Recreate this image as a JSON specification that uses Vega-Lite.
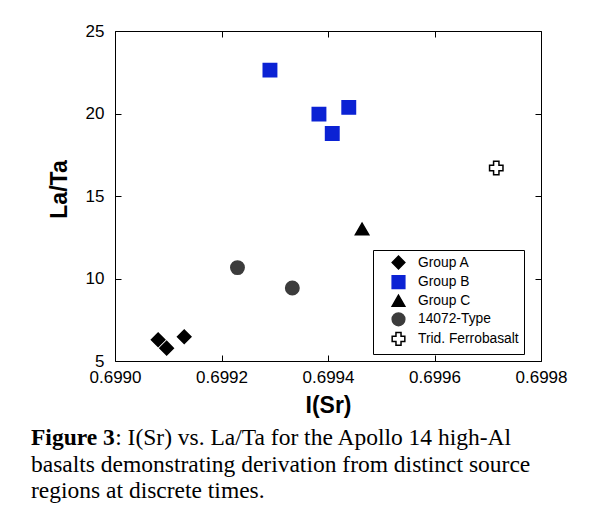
{
  "$schema": "https://vega.github.io/schema/vega-lite/v6.json",
  "width": 426,
  "height": 330,
  "autosize": {"type": "none"},
  "padding": {"left": 115, "top": 31, "right": 62, "bottom": 145},
  "background": "white",
  "title": {
    "text": "Figure 3",
    "subtitle": [
      "\u200b\u00a0\u00a0\u00a0\u00a0\u00a0\u00a0\u00a0\u00a0\u00a0\u00a0\u00a0\u00a0\u00a0\u00a0\u200a: I(Sr) vs. La/Ta for the Apollo 14 high-Al",
      "basalts demonstrating derivation from distinct source",
      "regions at discrete times."
    ],
    "orient": "bottom",
    "anchor": "start",
    "frame": "group",
    "align": "left",
    "dx": -84,
    "offset": 9,
    "font": "Liberation Serif",
    "fontSize": 23.5,
    "fontWeight": "bold",
    "color": "black",
    "subtitleFont": "Liberation Serif",
    "subtitleFontSize": 23.5,
    "subtitleFontWeight": "normal",
    "subtitleColor": "black",
    "subtitleLineHeight": 26.5,
    "subtitlePadding": -23.5
  },
  "data": {
    "values": [
      {"group": "Group A", "isr": 0.699081, "lata": 6.29},
      {"group": "Group A", "isr": 0.699097, "lata": 5.78},
      {"group": "Group A", "isr": 0.69913, "lata": 6.47},
      {"group": "Group B", "isr": 0.699291, "lata": 22.63},
      {"group": "Group B", "isr": 0.699383, "lata": 19.96},
      {"group": "Group B", "isr": 0.699408, "lata": 18.79},
      {"group": "Group B", "isr": 0.699439, "lata": 20.37},
      {"group": "Group C", "isr": 0.699464, "lata": 13.0},
      {"group": "14072-Type", "isr": 0.69923, "lata": 10.66},
      {"group": "14072-Type", "isr": 0.699333, "lata": 9.42},
      {"group": "Trid. Ferrobasalt", "isr": 0.699716, "lata": 16.7}
    ]
  },
  "layer": [
    {
      "mark": {"type": "point", "filled": true, "opacity": 1, "strokeWidth": 1.5, "size": 180},
      "encoding": {
        "x": {
          "field": "isr", "type": "quantitative",
          "scale": {"domain": [0.699, 0.6998], "nice": false, "zero": false},
          "axis": {
            "title": "I(Sr)", "values": [0.699, 0.6992, 0.6994, 0.6996, 0.6998], "format": ".4f",
            "orient": "bottom", "grid": false, "domain": false,
            "tickSize": -6, "tickColor": "black", "tickWidth": 1,
            "labelFont": "Liberation Sans", "labelFontSize": 17, "labelColor": "black", "labelPadding": 14,
            "labelFlush": false, "labelOverlap": false,
            "titleFont": "Liberation Sans", "titleFontSize": 23, "titleFontWeight": "bold", "titleColor": "black", "titlePadding": 9
          }
        },
        "y": {
          "field": "lata", "type": "quantitative",
          "scale": {"domain": [5, 25], "nice": false, "zero": false},
          "axis": {
            "title": "La/Ta", "values": [5, 10, 15, 20, 25],
            "orient": "left", "grid": false, "domain": false,
            "tickSize": -6, "tickColor": "black", "tickWidth": 1,
            "labelFont": "Liberation Sans", "labelFontSize": 17, "labelColor": "black", "labelPadding": 17,
            "labelFlush": false, "labelOverlap": false,
            "titleFont": "Liberation Sans", "titleFontSize": 23, "titleFontWeight": "bold", "titleColor": "black", "titlePadding": 14,
            "titleY": 158
          }
        },
        "shape": {
          "field": "group", "type": "nominal", "title": null,
          "scale": {
            "domain": ["Group A", "Group B", "Group C", "14072-Type", "Trid. Ferrobasalt"],
            "range": ["diamond", "square", "triangle-up", "circle", "cross"]
          },
          "legend": {
            "orient": "none", "legendX": 258, "legendY": 219,
            "padding": 5, "strokeColor": "black", "fillColor": "white",
            "symbolOffset": 13, "labelOffset": 12, "rowPadding": 0.6,
            "symbolSize": 160, "symbolStrokeWidth": 1.5,
            "labelFont": "Liberation Sans", "labelFontSize": 13.8, "labelLimit": 200,
            "encode": {
              "labels": {"update": {"fill": {"signal": "datum.label === 'Group B' ? '#0b22d4' : (datum.label === '14072-Type' ? '#555555' : '#000000')"}}},
              "legend": {"update": {"strokeWidth": {"value": 1.5}}}
            }
          }
        },
        "fill": {
          "field": "group", "type": "nominal", "title": null,
          "scale": {
            "domain": ["Group A", "Group B", "Group C", "14072-Type", "Trid. Ferrobasalt"],
            "range": ["#000000", "#0b22d4", "#000000", "#3c3c3c", "#ffffff"]
          }
        },
        "stroke": {
          "field": "group", "type": "nominal", "title": null,
          "scale": {
            "domain": ["Group A", "Group B", "Group C", "14072-Type", "Trid. Ferrobasalt"],
            "range": ["#000000", "#0b22d4", "#000000", "#3c3c3c", "#000000"]
          }
        }
      }
    },
    {
      "mark": {"type": "point", "opacity": 0},
      "encoding": {
        "x": {
          "field": "isr", "type": "quantitative",
          "axis": {
            "title": null, "values": [0.699, 0.6992, 0.6994, 0.6996, 0.6998], "labels": false,
            "orient": "top", "grid": false, "domain": false,
            "tickSize": -6, "tickColor": "black", "tickWidth": 1
          }
        },
        "y": {
          "field": "lata", "type": "quantitative",
          "axis": {
            "title": null, "values": [5, 10, 15, 20, 25], "labels": false,
            "orient": "right", "grid": false, "domain": false,
            "tickSize": -6, "tickColor": "black", "tickWidth": 1
          }
        }
      }
    }
  ],
  "resolve": {"axis": {"x": "independent", "y": "independent"}},
  "config": {
    "font": "Liberation Sans",
    "view": {"stroke": "black", "strokeWidth": 1}
  }
}
